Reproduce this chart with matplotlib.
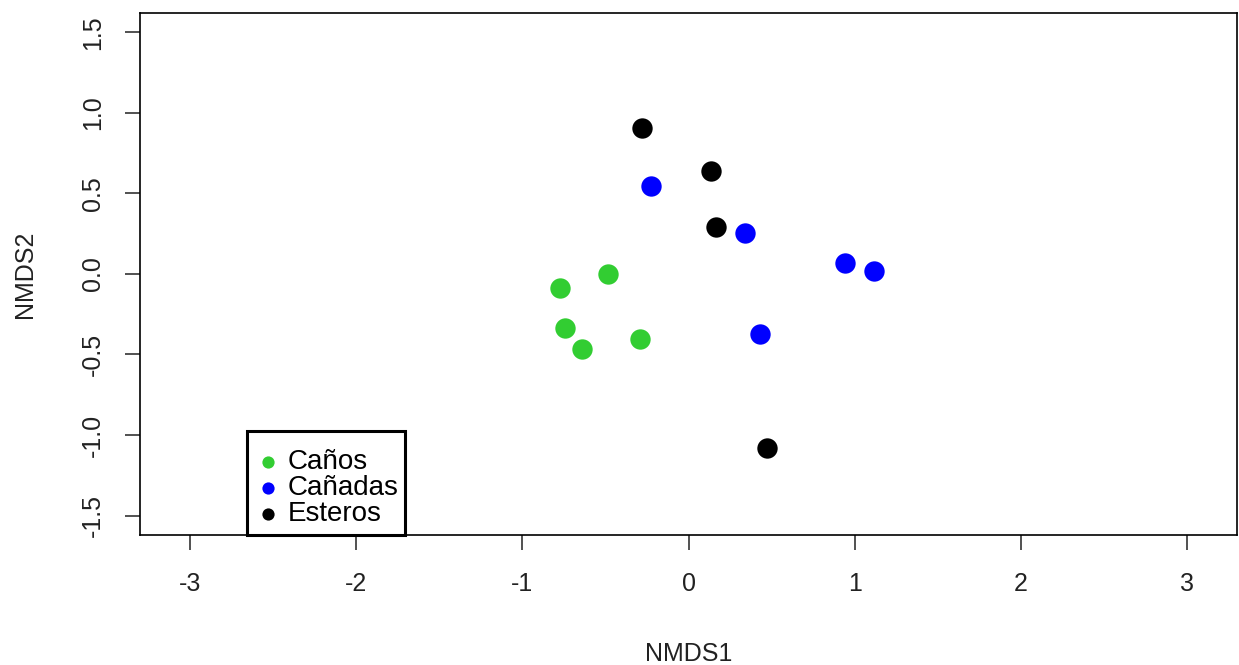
import matplotlib
matplotlib.use('Agg')
import matplotlib.pyplot as plt
from matplotlib.patches import Rectangle

plt.rcParams['font.family'] = ['Liberation Sans', 'DejaVu Sans']
plt.rcParams['axes.unicode_minus'] = False

groups = ['Caños', 'Cañadas', 'Esteros']
colors = ['#32CD32', '#0000FF', '#000000']

canos_x = [-0.776, -0.487, -0.746, -0.643, -0.295]
canos_y = [-0.087, 0.0, -0.335, -0.466, -0.404]
canadas_x = [-0.229, 0.337, 0.938, 1.118, 0.427]
canadas_y = [0.547, 0.255, 0.068, 0.019, -0.373]
esteros_x = [-0.283, 0.132, 0.162, 0.469]
esteros_y = [0.907, 0.640, 0.292, -1.081]

xs = [canos_x, canadas_x, esteros_x]
ys = [canos_y, canadas_y, esteros_y]

fig = plt.figure(figsize=(12.39, 6.65), dpi=100)
ax = fig.add_axes([0.113, 0.1955, 0.8855, 0.785])

for x, y, c, g in zip(xs, ys, colors, groups):
    ax.scatter(x, y, s=215, color=c, label=g, linewidths=0, zorder=3)

ax.set_xlim(-3.3, 3.3)
ax.set_ylim(-1.621, 1.621)
ax.set_xticks([-3, -2, -1, 0, 1, 2, 3])
ax.set_yticks([-1.5, -1.0, -0.5, 0.0, 0.5, 1.0, 1.5])
ax.set_yticklabels(['-1.5', '-1.0', '-0.5', '0.0', '0.5', '1.0', '1.5'],
                   rotation=90, va='center')
ax.tick_params(axis='both', length=11, width=1.2, labelsize=18,
               color='#333333', labelcolor='#222222')
ax.tick_params(axis='x', pad=16)
ax.tick_params(axis='y', pad=14)
for s in ax.spines.values():
    s.set_linewidth(1.2)

ax.set_xlabel('NMDS1', fontsize=18, color='#222222', labelpad=33)
ax.set_ylabel('NMDS2', fontsize=18, color='#222222', labelpad=32)

# legend box, R style
leg = ax.legend(loc='center left', bbox_to_anchor=(247 / 1239, 1 - 488 / 665),
                bbox_transform=fig.transFigure, borderaxespad=0, frameon=False,
                fontsize=20, handletextpad=0.18, labelspacing=0.0,
                borderpad=0.2, handlelength=1.1, markerscale=0.6)
box = Rectangle((247 / 1239, 1 - 535 / 665), 158 / 1239, 104 / 665,
                transform=fig.transFigure, fill=False, lw=2.2,
                edgecolor='black', zorder=5)
fig.patches.append(box)

fig.savefig('out.png', dpi=100)
